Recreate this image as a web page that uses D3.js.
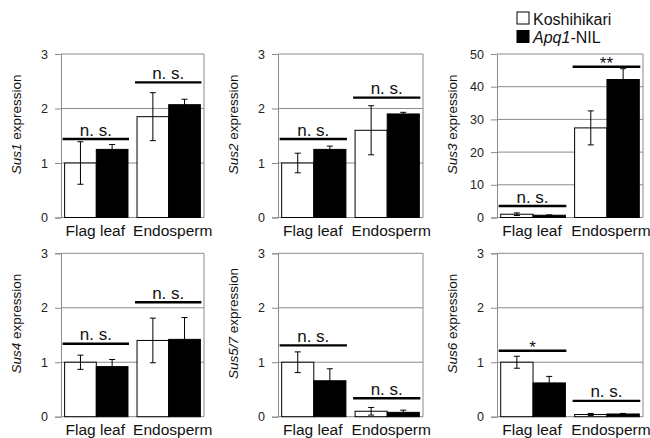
<!DOCTYPE html>
<html><head><meta charset="utf-8">
<script src="https://cdn.jsdelivr.net/npm/d3@7"></script>
<style>
body{margin:0;background:#fff;}
svg{display:block;font-family:"Liberation Sans",Arial,sans-serif;}
</style></head>
<body><svg id="c" width="650" height="438"></svg>
<script>
const categories = ["Flag leaf", "Endosperm"];
const seriesNames = ["Koshihikari", "Apq1-NIL"];
const genes = ["Sus1", "Sus2", "Sus3", "Sus4", "Sus5/7", "Sus6"];
const koshiMean = [[1.0,1.85],[1.0,1.60],[1.0,27.4],[1.0,1.40],[1.0,0.10],[1.0,0.04]];
const koshiErr  = [[0.39,0.44],[0.18,0.45],[0.4,5.2],[0.13,0.41],[0.19,0.07],[0.11,0.02]];
const nilMean   = [[1.25,2.07],[1.25,1.90],[0.7,42.2],[0.92,1.42],[0.66,0.08],[0.62,0.05]];
const nilErr    = [[0.09,0.10],[0.06,0.03],[0.1,3.3],[0.13,0.40],[0.22,0.04],[0.12,0.01]];
const yMax  = [3, 3, 50, 3, 3, 3];
const yStep = [1, 1, 10, 1, 1, 1];
const sigLabel = [["n. s.","n. s."],["n. s.","n. s."],["n. s.","**"],["n. s.","n. s."],["n. s.","n. s."],["*","n. s."]];
const sigLevel = [[1.44,2.48],[1.44,2.20],[3.5,46.1],[1.34,2.10],[1.31,0.34],[1.21,0.29]];

const svg = d3.select("#c");
const cols = [[61,204],[278,423],[497,643]];
const rows = [[54,217.5],[253.3,416.7]];
const gridCol = "#8a8a8a";
const fills = ["#fff", "#000"];

genes.forEach((gene, i) => {
  const [x0, x1] = cols[i % 3];
  const [y0, y1] = rows[Math.floor(i / 3)];
  const g = svg.append("g");
  const y = d3.scaleLinear().domain([0, yMax[i]]).range([y1, y0]);
  const xb = d3.scaleBand().domain(categories).range([x0, x1]).paddingInner(0.125).paddingOuter(0.05);
  const xs = d3.scaleBand().domain(seriesNames).range([0, xb.bandwidth()]);
  const ticks = d3.range(0, yMax[i] + 1e-9, yStep[i]);

  g.selectAll("line.grid").data(ticks.filter(t => t > 0)).join("line")
    .attr("x1", x0).attr("x2", x1).attr("y1", d => y(d)).attr("y2", d => y(d))
    .attr("stroke", gridCol).attr("stroke-width", 1);
  g.append("line").attr("x1", x1).attr("x2", x1).attr("y1", y0).attr("y2", y1).attr("stroke", gridCol);
  g.append("line").attr("x1", x0).attr("x2", x1).attr("y1", y1).attr("y2", y1).attr("stroke", gridCol);

  const ax = g.append("g").attr("transform", `translate(${x0},0)`)
    .call(d3.axisLeft(y).tickValues(ticks).tickSize(6).tickPadding(7).tickFormat(d3.format("d")));
  ax.select(".domain").attr("stroke", gridCol);
  ax.selectAll(".tick line").attr("stroke", gridCol);
  ax.selectAll(".tick text").attr("font-size", 12.5).attr("fill", "#222")
    .attr("font-family", "Liberation Sans, Arial, sans-serif");

  const data = [];
  categories.forEach((c, j) => {
    data.push({c, s: seriesNames[0], v: koshiMean[i][j], e: koshiErr[i][j], k: 0});
    data.push({c, s: seriesNames[1], v: nilMean[i][j], e: nilErr[i][j], k: 1});
  });
  g.selectAll("rect.bar").data(data).join("rect")
    .attr("x", d => xb(d.c) + xs(d.s)).attr("width", xs.bandwidth())
    .attr("y", d => y(d.v)).attr("height", d => y(0) - y(d.v))
    .attr("fill", d => fills[d.k]).attr("stroke", "#000").attr("stroke-width", 1);

  data.forEach(d => {
    const cx = xb(d.c) + xs(d.s) + xs.bandwidth() / 2;
    g.append("line").attr("x1", cx).attr("x2", cx).attr("y1", y(d.v + d.e)).attr("y2", y(Math.max(0, d.v - d.e)))
      .attr("stroke", "#000").attr("stroke-width", 1);
    [d.v + d.e, d.v - d.e].forEach(v => {
      g.append("line").attr("x1", cx - 3).attr("x2", cx + 3).attr("y1", y(v)).attr("y2", y(v))
        .attr("stroke", "#000").attr("stroke-width", 1);
    });
  });

  categories.forEach((c, j) => {
    const ly = y(sigLevel[i][j]);
    const lx0 = xb(c) - 2, lx1 = xb(c) + xb.bandwidth() + 1;
    g.append("line").attr("x1", lx0).attr("x2", lx1).attr("y1", ly).attr("y2", ly)
      .attr("stroke", "#000").attr("stroke-width", 2.4);
    const lab = sigLabel[i][j];
    const isStar = lab.indexOf("*") >= 0;
    g.append("text").attr("x", (lx0 + lx1) / 2).attr("y", isStar ? ly + 2 : ly - 3.5)
      .attr("text-anchor", "middle").attr("font-size", 17).attr("fill", "#111").text(lab);
  });

  g.selectAll("text.cat").data(categories).join("text")
    .attr("x", (d, j) => xb(d) + xb.bandwidth() / 2 + (j === 0 ? -1 : 4)).attr("y", y1 + 18.5)
    .attr("text-anchor", "middle").attr("font-size", 15.5).attr("fill", "#111").text(d => d);

  const t = g.append("text")
    .attr("transform", `translate(${x0 - 40},${y0 + (y1 - y0) * 0.43}) rotate(-90)`)
    .attr("text-anchor", "middle").attr("font-size", 13.5).attr("fill", "#111");
  t.append("tspan").attr("font-style", "italic").text(gene);
  t.append("tspan").text(" expression");
});

const lg = svg.append("g");
seriesNames.forEach((s, k) => {
  lg.append("rect").attr("x", 517).attr("y", 12 + k * 18.5).attr("width", 12).attr("height", 12)
    .attr("fill", fills[k]).attr("stroke", "#000").attr("stroke-width", 1);
  const tx = lg.append("text").attr("x", 533).attr("y", 24.5 + k * 18.5).attr("font-size", 16).attr("fill", "#111");
  if (s.indexOf("-") > 0) {
    const [a, b] = s.split("-");
    tx.append("tspan").attr("font-style", "italic").text(a);
    tx.append("tspan").text("-" + b);
  } else tx.text(s);
});
</script></body></html>
